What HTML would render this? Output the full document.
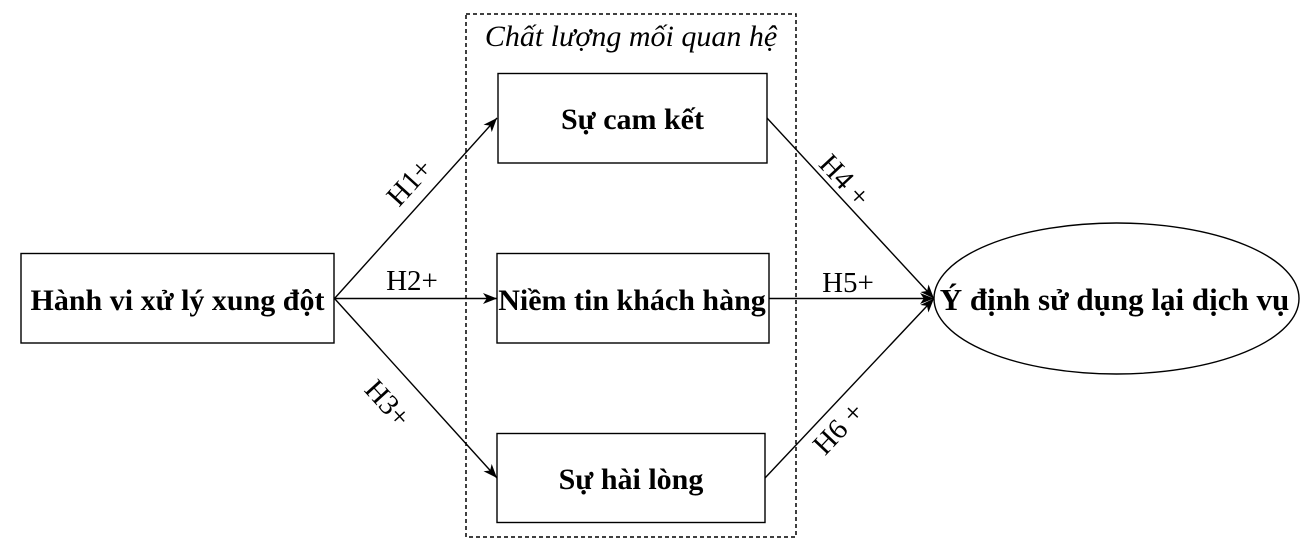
<!DOCTYPE html>
<html>
<head>
<meta charset="utf-8">
<style>
  html, body { margin:0; padding:0; background:#fff; }
  svg { display:block; }
  text { font-family: "Liberation Serif", "Noto Serif CJK SC", serif; fill:#000; }
  .b { font-weight:bold; font-size:30px; }
  .l { font-size:29px; }
</style>
</head>
<body>
<svg width="1302" height="548" viewBox="0 0 1302 548" xmlns="http://www.w3.org/2000/svg">
  <defs>
    <marker id="ah" markerWidth="15" markerHeight="11" refX="14" refY="5.5" orient="auto" markerUnits="userSpaceOnUse">
      <path d="M0,0 L14,5.5 L0,11 L3.8,5.5 z" fill="#000"/>
    </marker>
  </defs>

  <!-- dashed group -->
  <rect x="466" y="14" width="330" height="523" fill="none" stroke="#000" stroke-width="1.5" stroke-dasharray="4 3"/>
  <text x="631" y="46" text-anchor="middle" font-style="italic" font-size="30">Chất lượng mối quan hệ</text>

  <!-- boxes -->
  <rect x="21" y="253.5" width="313" height="89.5" fill="#fff" stroke="#000" stroke-width="1.4"/>
  <text class="b" x="177.5" y="310" text-anchor="middle">Hành vi xử lý xung đột</text>

  <rect x="498" y="73.5" width="269" height="89.5" fill="#fff" stroke="#000" stroke-width="1.4"/>
  <text class="b" x="632.5" y="129" text-anchor="middle">Sự cam kết</text>

  <rect x="497" y="253.5" width="272" height="89.5" fill="#fff" stroke="#000" stroke-width="1.4"/>
  <text class="b" x="632" y="310" text-anchor="middle">Niềm tin khách hàng</text>

  <rect x="497" y="433.5" width="268" height="89" fill="#fff" stroke="#000" stroke-width="1.4"/>
  <text class="b" x="631" y="489" text-anchor="middle">Sự hài lòng</text>

  <ellipse cx="1116.5" cy="298.5" rx="182.5" ry="75.5" fill="#fff" stroke="#000" stroke-width="1.4"/>
  <text class="b" x="1114.5" y="310" text-anchor="middle" style="font-size:31px">Ý định sử dụng lại dịch vụ</text>

  <!-- connectors -->
  <g stroke="#000" stroke-width="1.4" fill="none">
    <line x1="334.5" y1="298.5" x2="497" y2="118" marker-end="url(#ah)"/>
    <line x1="334.5" y1="298.5" x2="497" y2="298.5" marker-end="url(#ah)"/>
    <line x1="334.5" y1="298.5" x2="497" y2="478" marker-end="url(#ah)"/>
    <line x1="767" y1="118" x2="934" y2="298.5" marker-end="url(#ah)"/>
    <line x1="769" y1="298.5" x2="934" y2="298.5" marker-end="url(#ah)"/>
    <line x1="765" y1="478" x2="934" y2="298.5" marker-end="url(#ah)"/>
  </g>

  <!-- labels -->
  <g transform="translate(409,182) rotate(-47.8)"><text class="l" x="0" y="10" text-anchor="middle">H1+</text></g>
  <text class="l" x="412" y="290" text-anchor="middle">H2+</text>
  <g transform="translate(388,403) rotate(47.8)"><text class="l" x="0" y="10" text-anchor="middle">H3+</text></g>
  <g transform="translate(845,180) rotate(47.1)"><text class="l" x="0" y="10" text-anchor="middle">H4 +</text></g>
  <text class="l" x="848" y="292" text-anchor="middle">H5+</text>
  <g transform="translate(838,428) rotate(-46.7)"><text class="l" x="0" y="10" text-anchor="middle">H6 +</text></g>
</svg>
</body>
</html>
